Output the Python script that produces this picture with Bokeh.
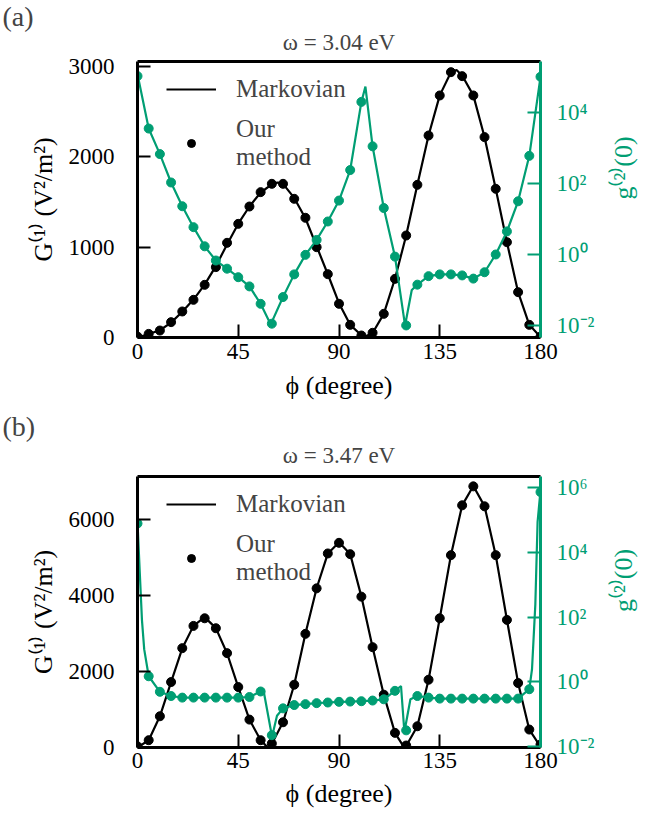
import math
from bokeh.plotting import figure
from bokeh.models import (Range1d, LogScale, LogAxis, LinearAxis, FixedTicker,
                          CustomJSTickFormatter, Title, Legend, LegendItem)
from bokeh.layouts import column
from bokeh.embed import file_html
from bokeh.resources import INLINE

FONT = "Liberation Serif"
GREEN = "#009E73"
FS = "23px"
FS_LAB = "26px"

# ---------------- data: panel (a), omega = 3.04 eV ----------------
phi_pts = [0, 5, 10, 15, 20, 25, 30, 35, 40, 45, 50, 55, 60, 65, 70, 75, 80, 85, 90,
           95, 100, 105, 110, 115, 120, 125, 130, 135, 140, 145, 150, 155, 160, 165,
           170, 175, 180]

a_G_dots = [10, 40, 77, 170, 288, 417, 583, 779, 1048, 1258, 1450, 1609, 1701, 1701,
            1535, 1325, 1000, 701, 373, 140, 22, 52, 262, 649, 1129, 1690, 2236, 2679,
            2937, 2893, 2679, 2218, 1646, 1055, 502, 140, 10]
a_g2_dots = [1.07e5, 3.55e3, 676, 107, 22.9, 5.89, 1.70, 0.676, 0.398, 0.229, 0.126,
             0.0407, 0.0112, 0.0631, 0.275, 0.977, 2.57, 8.51, 33.1, 240, 2.0e4, 1.12e3,
             20.4, 0.871, 0.0100, 0.141, 0.245, 0.275, 0.275, 0.257, 0.209, 0.316, 1.0,
             4.47, 31.6, 603, 1.02e5]

a_G_line_phi = [0, 5, 10, 15, 20, 25, 30, 35, 40, 45, 50, 55, 60, 62.5, 65, 70, 75, 80,
                85, 90, 95, 100, 101.5, 105, 110, 115, 120, 125, 130, 135, 140, 142.5,
                145, 150, 155, 160, 165, 170, 175, 180]
a_G_line = [0, 38, 80, 165, 285, 420, 585, 790, 1030, 1260, 1450, 1605, 1695, 1715, 1700,
            1545, 1320, 1010, 700, 380, 140, 25, 8, 50, 262, 650, 1130, 1690, 2236, 2680,
            2935, 2960, 2900, 2680, 2220, 1646, 1055, 502, 140, 5]

a_g2_line_phi = [0, 5, 10, 15, 20, 25, 30, 35, 40, 45, 50, 55, 59.5, 65, 70, 75, 80, 85,
                 90, 95, 100, 101.8, 105, 110, 115, 119.5, 122.5, 125, 130, 135, 140, 145,
                 150, 155, 160, 165, 170, 175, 180]
a_g2_line = [1.2e5, 3.55e3, 676, 107, 22.9, 5.89, 1.70, 0.676, 0.398, 0.229, 0.126,
             0.0407, 0.0107, 0.0631, 0.275, 0.977, 2.57, 8.51, 33.1, 240, 2.0e4, 5.4e4,
             1.12e3, 20.4, 0.871, 0.0100, 0.1, 0.141, 0.245, 0.275, 0.275, 0.257, 0.209,
             0.316, 1.0, 4.47, 31.6, 603, 1.02e5]

# ---------------- data: panel (b), omega = 3.47 eV ----------------
b_G_dots = [30, 192, 822, 1722, 2614, 3199, 3400, 3138, 2483, 1591, 734, 192, 105, 664,
            1652, 2990, 4187, 5105, 5385, 5087, 3969, 2640, 1390, 385, 52, 559, 1783,
            3400, 5061, 6372, 6871, 6346, 5061, 3357, 1696, 472, 79]
b_g2_dots = [7.76e4, 1.48, 0.49, 0.363, 0.324, 0.324, 0.324, 0.324, 0.324, 0.324, 0.339,
             0.501, 0.0224, 0.151, 0.191, 0.204, 0.219, 0.229, 0.240, 0.245, 0.251,
             0.263, 0.288, 0.525, 0.0316, 0.363, 0.324, 0.302, 0.302, 0.302, 0.302,
             0.302, 0.302, 0.302, 0.302, 0.589, 7.24e5]

b_G_line_phi = [0, 5, 10, 15, 20, 25, 30, 35, 40, 45, 50, 55, 58, 60, 65, 70, 75, 80, 85,
                90, 95, 100, 105, 110, 115, 119, 120, 125, 130, 135, 140, 145, 150, 155,
                160, 165, 170, 175, 180]
b_G_line = [0, 190, 820, 1720, 2610, 3200, 3430, 3140, 2480, 1590, 735, 190, 10, 100,
            665, 1650, 2990, 4190, 5100, 5400, 5090, 3970, 2640, 1390, 385, 10, 40, 560,
            1780, 3400, 5060, 6370, 6880, 6350, 5060, 3360, 1700, 470, 20]

b_g2_line_phi = [0, 1, 2, 3, 5, 10, 15, 20, 25, 30, 35, 40, 45, 50, 55, 56.2, 60.1, 62.3,
                 65, 70, 75, 80, 85, 90, 95, 100, 105, 110, 115, 117.7, 119.2, 121.9, 125,
                 130, 135, 140, 145, 150, 155, 160, 165, 170, 175, 176.2, 177.7, 178.7, 180]
b_g2_line = [8.7e4, 2.5e3, 79, 10, 1.48, 0.49, 0.363, 0.324, 0.324, 0.324, 0.324, 0.324,
             0.324, 0.339, 0.501, 0.589, 0.020, 0.089, 0.151, 0.191, 0.204, 0.219, 0.229,
             0.240, 0.245, 0.251, 0.263, 0.288, 0.525, 0.741, 0.0282, 0.288, 0.363, 0.324,
             0.302, 0.302, 0.302, 0.302, 0.302, 0.302, 0.302, 0.302, 0.589, 2.4, 251,
             8.7e4, 8.0e5]

x_ticks = [0, 45, 90, 135, 180]
a_y_ticks = [0, 1000, 2000, 3000]
b_y_ticks = [0, 2000, 4000, 6000]
a_g2_ticks = [1e-2, 1, 1e2, 1e4]
b_g2_ticks = [1e-2, 1, 1e2, 1e4, 1e6]

SUP_JS = """
const sup = {"-":"\u207b","0":"\u2070","1":"\u00b9","2":"\u00b2","3":"\u00b3","4":"\u2074",
             "5":"\u2075","6":"\u2076","7":"\u2077","8":"\u2078","9":"\u2079"};
const e = Math.round(Math.log10(tick));
return "10" + String(e).split("").map(c => sup[c]).join("");
"""


def panel(tag, title, frame_h, top, bottom, ymax, g2_lo, g2_hi, y_ticks, g2_ticks,
          G_dots, g2_dots, G_line_phi, G_line, g2_line_phi, g2_line,
          s_title, s_tag, xl_standoff, xt_standoff):
    p = figure(frame_width=403, frame_height=frame_h,
               x_range=Range1d(0, 180), y_range=Range1d(0, ymax),
               output_backend="svg", toolbar_location=None,
               min_border_left=137, min_border_right=105,
               min_border_top=top, min_border_bottom=bottom)
    p.extra_y_ranges = {"g2": Range1d(g2_lo, g2_hi)}
    p.extra_y_scales = {"g2": LogScale()}
    p.xgrid.visible = False
    p.ygrid.visible = False
    p.outline_line_color = None
    p.background_fill_color = "white"
    p.border_fill_color = "white"

    def style(ax, color="black"):
        ax.axis_line_color = color
        ax.axis_line_width = 3
        ax.major_tick_line_color = color
        ax.major_tick_line_width = 2
        ax.major_tick_in = 13
        ax.major_tick_out = 0
        ax.minor_tick_in = 0
        ax.minor_tick_out = 0
        ax.major_label_text_font = FONT
        ax.major_label_text_font_size = FS
        ax.major_label_text_color = color
        ax.axis_label_text_font = FONT
        ax.axis_label_text_font_size = FS_LAB
        ax.axis_label_text_font_style = "normal"
        ax.axis_label_text_color = color

    xa = p.xaxis[0]
    style(xa)
    xa.ticker = FixedTicker(ticks=x_ticks)
    xa.axis_label = "\u03d5 (degree)"
    xa.major_label_standoff = xt_standoff
    xa.axis_label_standoff = xl_standoff

    ya = p.yaxis[0]
    style(ya)
    ya.ticker = FixedTicker(ticks=y_ticks)
    ya.axis_label = "G\u207d\u00b9\u207e (V\u00b2/m\u00b2)"
    ya.major_label_standoff = 23
    ya.axis_label_standoff = 8

    ra = LogAxis(y_range_name="g2")
    style(ra, GREEN)
    ra.ticker = FixedTicker(ticks=g2_ticks, minor_ticks=[])
    ra.formatter = CustomJSTickFormatter(code=SUP_JS)
    ra.axis_label = "g\u207d\u00b2\u207e(0)"
    ra.axis_label_orientation = math.pi / 2
    ra.major_label_standoff = 16
    ra.axis_label_standoff = 26
    p.add_layout(ra, "right")

    ta = LinearAxis(ticker=FixedTicker(ticks=[]))
    ta.axis_line_width = 3
    ta.axis_line_color = "black"
    ta.major_label_text_font_size = "0px"
    ta.major_tick_in = 0
    ta.major_tick_out = 0
    ta.minor_tick_in = 0
    ta.minor_tick_out = 0
    p.add_layout(ta, "above")

    p.add_layout(Title(text=title, align="center", text_font=FONT, text_font_size=FS,
                       text_font_style="normal", standoff=s_title), "above")
    p.add_layout(Title(text=tag, align="left", offset=-135, text_font=FONT,
                       text_font_size="28px", text_font_style="normal",
                       standoff=s_tag), "above")

    gl = p.line(G_line_phi, G_line, line_color="black", line_width=2.2)
    gd = p.scatter(phi_pts, G_dots, size=9, fill_color="black", line_color="black")
    p.line(g2_line_phi, g2_line, line_color=GREEN, line_width=2.2, y_range_name="g2")
    p.scatter(phi_pts, g2_dots, size=9, fill_color=GREEN, line_color=GREEN,
              y_range_name="g2")

    leg = Legend(items=[LegendItem(label="Markovian", renderers=[gl]),
                        LegendItem(label="Our\nmethod", renderers=[gd])],
                 location=(29, frame_h - 110))
    leg.label_text_font = FONT
    leg.label_text_font_size = "25px"
    leg.label_text_line_height = 0.95
    leg.glyph_width = 50
    leg.label_standoff = 20
    leg.spacing = 12
    leg.margin = 0
    leg.padding = 10
    leg.border_line_color = None
    leg.background_fill_alpha = 0
    p.add_layout(leg)
    return p


p1 = panel("(a)", "\u03c9 = 3.04 eV", 276, 61, 76, 3055, 10 ** -2.34, 10 ** 5.44,
           a_y_ticks, a_g2_ticks, a_G_dots, a_g2_dots, a_G_line_phi, a_G_line,
           a_g2_line_phi, a_g2_line, 14, -22, 9, 6)
p2 = panel("(b)", "\u03c9 = 3.47 eV", 271, 63, 76, 7130, 10 ** -2.03, 10 ** 6.34,
           b_y_ticks, b_g2_ticks, b_G_dots, b_g2_dots, b_G_line_phi, b_G_line,
           b_g2_line_phi, b_g2_line, 17, -18, 8, 5)

layout = column(p1, p2, spacing=0)
open("out.html", "w").write(file_html(layout, INLINE))
